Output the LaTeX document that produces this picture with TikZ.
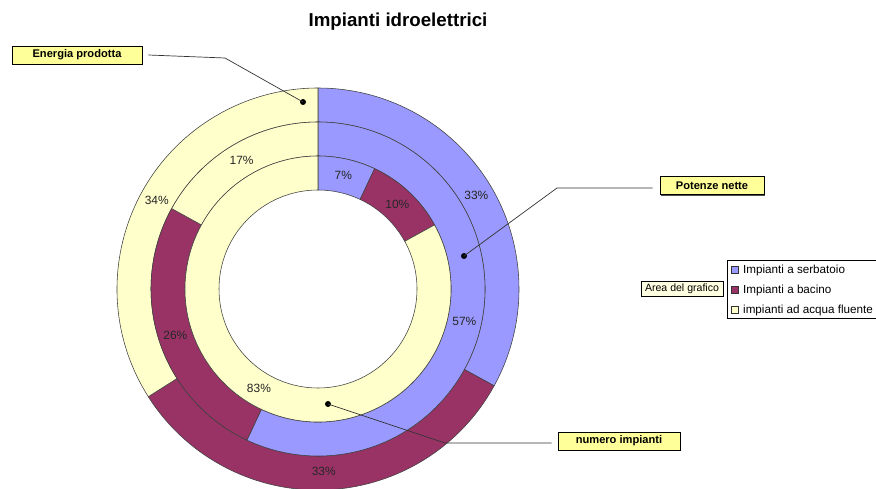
\documentclass[tikz,border=0pt]{standalone}
\usepackage{fontspec}
\setmainfont{Liberation Sans}
\usetikzlibrary{positioning, shadows}
\definecolor{serbatoio}{HTML}{9999FF}
\definecolor{bacino}{HTML}{993366}
\definecolor{fluente}{HTML}{FFFFCC}
\definecolor{calloutyellow}{HTML}{FFFF99}
\definecolor{tipyellow}{HTML}{FFFFE1}

\begin{document}
\begin{tikzpicture}[
    x=0.025cm, y=0.025cm,
    slice/.style={draw=black!75, line width=0.4pt},
    pct/.style={font=\fontsize{8.5}{10}\selectfont, text=black!85, inner sep=0pt},
    callout/.style={rectangle, draw, fill=calloutyellow, minimum height=0.45cm, inner sep=1pt, font=\fontsize{7.9}{9}\bfseries\selectfont, drop shadow={shadow xshift=0.035cm, shadow yshift=-0.035cm, fill=black!70, opacity=1}},
    leader/.style={draw=black!80, line width=0.5pt},
    dot/.style={circle, fill=black, inner sep=0pt, minimum size=0.15cm},
    legmark/.style={rectangle, draw=black!80, minimum size=0.17cm, inner sep=0pt},
    legtext/.style={font=\fontsize{8.3}{10}\selectfont, inner sep=1pt}
]
    \useasboundingbox (0,0) rectangle (876,488);
    \coordinate (c) at (318,199);

    % anelli: esterno = energia, medio = potenze, interno = numero
    \foreach \ra/\rb/\aa/\ab/\col in {
        167/201/90/-28.8/serbatoio, 167/201/-28.8/-147.6/bacino, 167/201/-147.6/-270/fluente,
        133/167/90/-115.2/serbatoio, 133/167/-115.2/-208.8/bacino, 133/167/-208.8/-270/fluente,
        99/133/90/64.8/serbatoio, 99/133/64.8/28.8/bacino, 99/133/28.8/-270/fluente}
        \filldraw[slice, fill=\col, shift={(318,199)}] (\aa:\rb) arc[start angle=\aa, end angle=\ab, radius=\rb]
            -- (\ab:\ra) arc[start angle=\ab, end angle=\aa, radius=\ra] -- cycle;

    \node[font=\fontsize{13.3}{16}\bfseries\selectfont] (titolo) at (398,466) {Impianti idroelettrici};

    % percentuali
    \node[pct] (os) at ([shift={(30.6:184)}]c) {33\%};
    \node[pct] (ob) at ([shift={(-88.2:182)}]c) {33\%};
    \node[pct] (of) at ([shift={(151.2:184)}]c) {34\%};
    \node[pct] (ms) at ([shift={(-12.6:150)}]c) {57\%};
    \node[pct] (mb) at ([shift={(-162:150)}]c) {26\%};
    \node[pct] (mf) at ([shift={(120.6:150)}]c) {17\%};
    \node[pct] (is) at ([shift={(77.4:116)}]c) {7\%};
    \node[pct] (ib) at ([shift={(46.8:116)}]c) {10\%};
    \node[pct] (if) at ([shift={(-120.6:116)}]c) {83\%};

    % etichette delle serie
    \node[callout, minimum width=3.25cm] (energia) at (77,433) {Energia prodotta};
    \node[callout, minimum width=2.6cm] (potenze) at (712,302.5) {Potenze nette};
    \node[callout, minimum width=3.05cm] (numero) at (619,47) {numero impianti};

    \node[dot] (edot) at (303,386) {};
    \node[dot] (pdot) at (464,232) {};
    \node[dot] (ndot) at (328,84) {};
    \coordinate (ebend) at (225,430);
    \coordinate (pbend) at (557,300);
    \coordinate (nbend) at (445,45);

    \draw[leader] ([xshift=0.15cm]energia.east) -- (ebend) -- (edot.center);
    \draw[leader] ([xshift=-0.18cm, yshift=-0.06cm]potenze.west) -- (pbend) -- (pdot.center);
    \draw[leader] ([xshift=-0.15cm, yshift=-0.05cm]numero.west) -- (nbend) -- (ndot.center);

    % legenda
    \node[draw, fill=white, minimum width=3.825cm, minimum height=1.45cm] (legenda) at (803.5,199) {};
    \node[legmark, fill=serbatoio] (mserb) at (735,218) {};
    \node[legmark, fill=bacino] (mbac) at (735,198) {};
    \node[legmark, fill=fluente] (mflu) at (735,178) {};
    \node[legtext, right=0.07cm of mserb] (lserb) {Impianti a serbatoio};
    \node[legtext, right=0.07cm of mbac] (lbac) {Impianti a bacino};
    \node[legtext, right=0.07cm of mflu] (lflu) {impianti ad acqua fluente};

    \node[draw, fill=tipyellow, minimum width=2.05cm, minimum height=0.375cm, inner sep=1pt, font=\fontsize{7.5}{9}\selectfont] (area) at (682,199.5) {Area del grafico};
\end{tikzpicture}
\end{document}
